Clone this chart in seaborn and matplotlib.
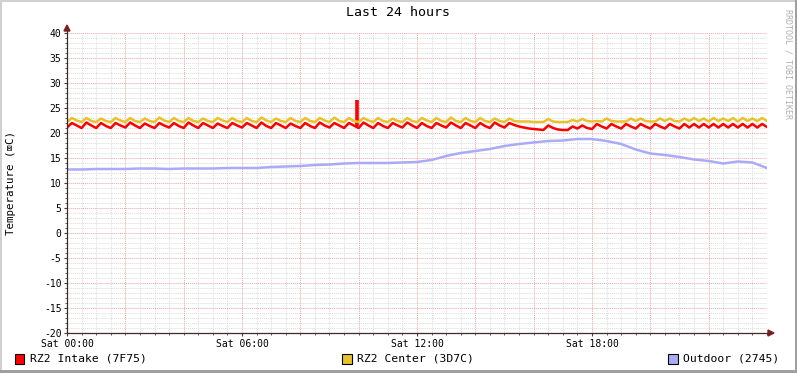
import numpy as np
import pandas as pd
import matplotlib
matplotlib.use("Agg")
import matplotlib.pyplot as plt
import seaborn as sns
from matplotlib.patches import Rectangle, Polygon
from matplotlib.lines import Line2D
from matplotlib.ticker import MultipleLocator

# ---------------- data ----------------
TITLE = "Last 24 hours"
Y_LABEL = "Temperature (\u2327C)"
WATERMARK = "RRDTOOL / TOBI OETIKER"
SERIES = ["RZ2 Intake (7F75)", "RZ2 Center (3D7C)", "Outdoor (2745)"]
COLORS = ["#FF0000", "#E8C22A", "#AAAAF8"]
X_TICK_HOURS = [0, 6, 12, 18]
X_TICK_LABELS = ["Sat 00:00", "Sat 06:00", "Sat 12:00", "Sat 18:00"]
Y_TICKS = [-20, -15, -10, -5, 0, 5, 10, 15, 20, 25, 30, 35, 40]

# 10-minute samples (hours 0 .. 24)
INTAKE = [
    21.1, 22.0, 21.5, 21.0, 22.1, 21.5,
    21.0, 22.0, 21.4, 21.0, 22.0, 21.5,
    21.1, 22.1, 21.5, 21.0, 21.9, 21.4,
    21.0, 22.0, 21.5, 21.1, 22.0, 21.4,
    21.0, 22.1, 21.5, 21.0, 22.0, 21.5,
    21.0, 21.9, 21.4, 21.0, 22.0, 21.5,
    21.1, 22.0, 21.5, 21.0, 22.1, 21.4,
    21.0, 22.0, 21.5, 21.0, 21.9, 21.4,
    21.0, 22.0, 21.4, 21.0, 22.1, 21.5,
    21.1, 22.0, 21.5, 21.0, 22.0, 21.5,
    21.0, 22.1, 21.5, 21.0, 22.0, 21.4,
    21.0, 22.0, 21.5, 21.1, 22.1, 21.5,
    21.0, 22.0, 21.4, 21.0, 22.0, 21.5,
    21.1, 22.1, 21.5, 21.0, 22.0, 21.5,
    21.0, 22.0, 21.4, 21.0, 22.1, 21.5,
    21.1, 22.0, 21.6, 21.3, 21.1, 20.9,
    20.8, 20.7, 20.6, 21.5, 21.0, 20.7,
    20.6, 20.6, 21.3, 20.9, 21.5, 21.0,
    20.8, 21.8, 21.3, 20.9, 21.8, 21.3,
    20.9, 21.8, 21.3, 20.9, 21.8, 21.3,
    20.9, 21.8, 21.3, 20.9, 21.8, 21.3,
    20.9, 21.8, 21.1, 21.8, 21.1, 21.8,
    21.1, 21.8, 21.1, 21.8, 21.1, 21.8,
    21.1, 21.8, 21.1, 21.8, 21.1, 21.8,
    21.2,
]
CENTER = [
    22.2, 23.0, 22.5, 22.2, 23.0, 22.4,
    22.2, 22.9, 22.4, 22.2, 23.0, 22.5,
    22.2, 23.0, 22.4, 22.2, 22.9, 22.4,
    22.2, 23.1, 22.5, 22.2, 23.0, 22.4,
    22.2, 23.0, 22.4, 22.2, 22.9, 22.4,
    22.2, 23.0, 22.5, 22.2, 23.0, 22.4,
    22.2, 23.0, 22.4, 22.2, 23.1, 22.5,
    22.2, 22.9, 22.4, 22.2, 23.0, 22.4,
    22.2, 23.0, 22.4, 22.2, 23.0, 22.5,
    22.2, 23.1, 22.4, 22.2, 23.0, 22.4,
    22.2, 23.0, 22.5, 22.2, 23.0, 22.4,
    22.2, 22.9, 22.4, 22.2, 23.0, 22.4,
    22.2, 23.0, 22.5, 22.2, 23.0, 22.4,
    22.2, 23.1, 22.4, 22.2, 23.0, 22.4,
    22.2, 23.0, 22.4, 22.2, 22.9, 22.4,
    22.2, 22.9, 22.4, 22.3, 22.3, 22.3,
    22.2, 22.2, 22.2, 22.8, 22.3, 22.2,
    22.2, 22.2, 22.6, 22.3, 22.8, 22.4,
    22.3, 22.4, 22.3, 22.9, 22.4, 22.3,
    22.3, 22.3, 22.9, 22.4, 22.9, 22.4,
    22.3, 22.3, 22.9, 22.4, 22.9, 22.4,
    22.3, 22.9, 22.4, 23.0, 22.4, 22.9,
    22.3, 23.0, 22.4, 22.9, 22.4, 23.0,
    22.3, 23.0, 22.4, 22.9, 22.4, 23.0,
    22.4,
]
# 30-minute samples (hours 0 .. 24)
OUTDOOR = [
    12.7, 12.7, 12.8, 12.8, 12.8, 12.9, 12.9, 12.8, 12.9, 12.9,
    12.9, 13.0, 13.0, 13.0, 13.2, 13.3, 13.4, 13.6, 13.7, 13.9,
    14.0, 14.0, 14.0, 14.1, 14.2, 14.6, 15.4, 16.0, 16.4, 16.8,
    17.4, 17.8, 18.1, 18.4, 18.5, 18.8, 18.8, 18.4, 17.8, 16.7,
    15.9, 15.6, 15.2, 14.7, 14.4, 13.9, 14.3, 14.1, 13.0,
]
SPIKE_HOUR = 9.93
SPIKE_BASE = 21.5
SPIKE_TOP = 26.7

HOURS_10MIN = np.arange(len(INTAKE)) / 6.0
HOURS_30MIN = np.arange(len(OUTDOOR)) / 2.0

df = pd.concat([
    pd.DataFrame({"hour": HOURS_10MIN, "temp": INTAKE, "series": SERIES[0]}),
    pd.DataFrame({"hour": HOURS_10MIN, "temp": CENTER, "series": SERIES[1]}),
    pd.DataFrame({"hour": HOURS_30MIN, "temp": OUTDOOR, "series": SERIES[2]}),
], ignore_index=True)

# ---------------- figure ----------------
sns.set_theme(style="white")
plt.rcParams["font.family"] = ["DejaVu Sans Mono", "DejaVu Sans"]

W, H = 797, 373
fig = plt.figure(figsize=(W / 100, H / 100), dpi=100)
fig.patch.set_facecolor("white")


def fx(x):
    return x / W


def fy(y):
    return 1 - y / H


ax = fig.add_axes([fx(67), fy(333), 700 / W, 300 / H])
ax.set_facecolor("white")
ax.set_xlim(0, 24)
ax.set_ylim(-20, 40)

# grid
for h in np.arange(0, 24.01, 0.5):
    major = abs(h / 2 - round(h / 2)) < 1e-9
    ax.axvline(h, color="#EBA6A6" if major else "#DCDCDC", lw=0.7,
               ls=(0, (1, 1)), zorder=0.6 if major else 0.5)
for v in range(-20, 41):
    major = v % 5 == 0
    ax.axhline(v, color="#EBA6A6" if major else "#DCDCDC", lw=0.7,
               ls=(0, (1, 1)), zorder=0.6 if major else 0.5)

sns.lineplot(data=df, x="hour", y="temp", hue="series", hue_order=SERIES,
             palette=COLORS, estimator=None, lw=1.8, legend=False, ax=ax,
             zorder=3)
ax.vlines(SPIKE_HOUR, SPIKE_BASE, SPIKE_TOP, color=COLORS[0], lw=2.6,
          zorder=2.9)

for s in ax.spines.values():
    s.set_visible(False)
ax.set_xlabel("")
ax.set_ylabel("")

ax.set_yticks(Y_TICKS)
ax.set_yticklabels([str(t) for t in Y_TICKS])
ax.yaxis.set_minor_locator(MultipleLocator(1))
ax.set_xticks(X_TICK_HOURS)
ax.set_xticklabels(X_TICK_LABELS)
ax.xaxis.set_minor_locator(MultipleLocator(0.5))
ax.tick_params(axis="both", which="major", length=2, width=0.8,
               color="#404040", labelsize=7, labelcolor="black", pad=2)
ax.tick_params(axis="x", which="major", pad=2.2)
ax.tick_params(axis="both", which="minor", length=1.5, width=0.6,
               color="#404040")
ax.tick_params(left=True, bottom=True, which="both")

# axes lines with arrows
axis_col = "#402828"
arrow_col = "#802020"
fig.add_artist(Line2D([fx(67), fx(770)], [fy(333), fy(333)], color=axis_col,
                      lw=0.9, transform=fig.transFigure))
fig.add_artist(Line2D([fx(67), fx(67)], [fy(333), fy(30)], color=axis_col,
                      lw=0.9, transform=fig.transFigure))
fig.add_artist(Polygon([[fx(768), fy(330)], [fx(774), fy(333)],
                        [fx(768), fy(336)]], closed=True, color=arrow_col,
                       transform=fig.transFigure))
fig.add_artist(Polygon([[fx(64), fy(31)], [fx(67), fy(25)], [fx(70), fy(31)]],
                       closed=True, color=arrow_col,
                       transform=fig.transFigure))

# texts
fig.text(fx(398), fy(13), TITLE, ha="center", va="center", fontsize=9.5,
         color="black")
fig.text(fx(11), fy(183), Y_LABEL, ha="center", va="center", rotation=90,
         fontsize=7.8, color="black")
fig.text(fx(788), fy(9), WATERMARK, ha="center", va="top", rotation=270,
         fontsize=6, color="#B0B0B0")

# legend
legend_boxes = [15, 342, 668]
for x0, name, col in zip(legend_boxes, SERIES, COLORS):
    fig.add_artist(Rectangle((fx(x0), fy(363.5)), 9.5 / W, 9.5 / H,
                             facecolor=col, edgecolor="black", lw=0.8,
                             transform=fig.transFigure))
    fig.text(fx(x0 + 15), fy(358.5), name, ha="left", va="center",
             fontsize=8.2, color="black")

# outer frame
fig.add_artist(Rectangle((0, fy(2)), 1, 2 / H, facecolor="#D0D0D0",
                         edgecolor="none", transform=fig.transFigure))
fig.add_artist(Rectangle((0, 0), 2 / W, 1, facecolor="#D0D0D0",
                         edgecolor="none", transform=fig.transFigure))
fig.add_artist(Rectangle((0, 0), 1, 3 / H, facecolor="#A0A0A0",
                         edgecolor="none", transform=fig.transFigure))
fig.add_artist(Rectangle((fx(795), 0), 2 / W, 1, facecolor="#A0A0A0",
                         edgecolor="none", transform=fig.transFigure))

fig.savefig("out.png", dpi=100, facecolor=fig.get_facecolor())
